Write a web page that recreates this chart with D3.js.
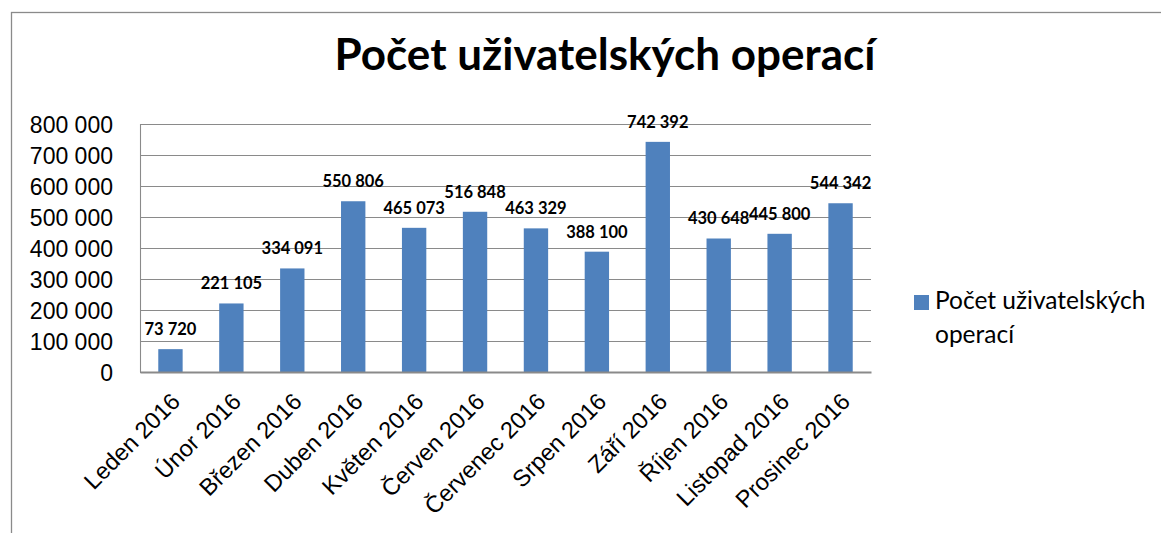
<!DOCTYPE html>
<html>
<head>
<meta charset="utf-8">
<script src="https://cdn.jsdelivr.net/npm/d3@7"></script>
<style>
  body { margin: 0; background: #fff; }
  svg { display: block; font-family: Lato, "Noto Sans", sans-serif; }
</style>
</head>
<body>
<div class="chart"></div>
<script>
// data
const months = ["Leden 2016", "Únor 2016", "Březen 2016", "Duben 2016", "Květen 2016", "Červen 2016",
  "Červenec 2016", "Srpen 2016", "Září 2016", "Říjen 2016", "Listopad 2016", "Prosinec 2016"];
const operations = [73720, 221105, 334091, 550806, 465073, 516848, 463329, 388100, 742392, 430648, 445800, 544342];
const yTicks = [0, 100000, 200000, 300000, 400000, 500000, 600000, 700000, 800000];
const seriesName = "Počet uživatelských operací";
const legendLines = ["Počet uživatelských", "operací"];

const W = 1161, H = 533;
const plot = { left: 140, right: 871, top: 124, bottom: 372 };

const cz = d3.formatLocale({ decimal: ",", thousands: " ", grouping: [3], currency: ["", " Kč"] });
const fmt = cz.format(",d");

const svg = d3.select(".chart").append("svg")
  .attr("width", W)
  .attr("height", H);

// chart frame
svg.append("rect")
  .attr("x", 11.5).attr("y", 12.5)
  .attr("width", W + 20).attr("height", H + 20)
  .attr("fill", "none")
  .attr("stroke", "#8a8a8a")
  .attr("stroke-width", 1.3);

// title
svg.append("text")
  .attr("x", 605).attr("y", 70)
  .attr("text-anchor", "middle")
  .attr("font-weight", "bold")
  .attr("font-size", 44)
  .text(seriesName);

var x = d3.scaleBand()
  .domain(months)
  .range([plot.left, plot.right])
  .paddingInner(0.6)
  .paddingOuter(0.3);

var y = d3.scaleLinear()
  .domain([0, 800000])
  .range([plot.bottom, plot.top]);

// gridlines + y labels
var yAxis = svg.append("g")
  .attr("transform", "translate(" + plot.left + ",0)")
  .call(d3.axisLeft(y).tickValues(yTicks).tickFormat(fmt)
    .tickSize(-(plot.right - plot.left)).tickPadding(27));
yAxis.select(".domain").remove();
yAxis.selectAll(".tick line")
  .attr("stroke", "#8a8a8a")
  .attr("stroke-width", 1.1);
yAxis.selectAll(".tick text")
  .attr("font-size", 23)
  .attr("fill", "#000")
  .attr("dy", "0.36em");

// left edge of plot area
svg.append("line")
  .attr("x1", plot.left + 0.5).attr("x2", plot.left + 0.5)
  .attr("y1", plot.top).attr("y2", plot.bottom)
  .attr("stroke", "#8a8a8a")
  .attr("stroke-width", 1.1);

// bars
svg.selectAll("rect.bar")
  .data(operations)
  .enter()
  .append("rect")
  .attr("class", "bar")
  .attr("x", (d, i) => x(months[i]))
  .attr("y", d => y(d))
  .attr("width", x.bandwidth())
  .attr("height", d => y(0) - y(d))
  .attr("fill", "#4f81bd");

// bottom axis
var xAxis = svg.append("g")
  .attr("transform", "translate(0," + plot.bottom + ")")
  .call(d3.axisBottom(x).tickSize(0).tickPadding(0));
xAxis.select(".domain")
  .attr("stroke", "#8a8a8a")
  .attr("stroke-width", 2);
xAxis.selectAll(".tick text")
  .attr("font-size", 23.5)
  .attr("fill", "#000")
  .attr("text-anchor", "end")
  .attr("dy", 0)
  .attr("transform", "translate(11,31) rotate(-45)");

// value labels
svg.selectAll("text.val")
  .data(operations)
  .enter()
  .append("text")
  .attr("class", "val")
  .attr("x", (d, i) => x(months[i]) + x.bandwidth() / 2)
  .attr("y", d => y(d) - 14)
  .attr("text-anchor", "middle")
  .attr("font-weight", "bold")
  .attr("font-size", 16.5)
  .text(d => fmt(d));

// legend
var legend = svg.append("g");
legend.append("rect")
  .attr("x", 914).attr("y", 295)
  .attr("width", 15).attr("height", 15)
  .attr("fill", "#4f81bd");
legend.selectAll("text")
  .data(legendLines)
  .enter()
  .append("text")
  .attr("x", 935)
  .attr("y", (d, i) => 309 + i * 34)
  .attr("font-size", 24.5)
  .text(d => d);
</script>
</body>
</html>
